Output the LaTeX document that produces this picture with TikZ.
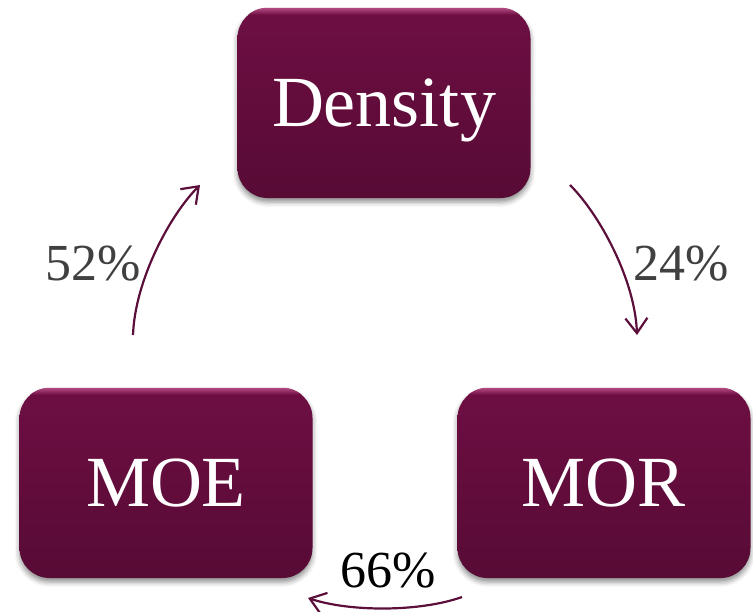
\documentclass[tikz,border=0pt]{standalone}
\usepackage{fontspec}
\setmainfont{Liberation Serif}
\usetikzlibrary{arrows.meta,shadows.blur}

\definecolor{boxtop}{HTML}{6E0E43}
\definecolor{boxbottom}{HTML}{570B35}
\definecolor{boxshine}{HTML}{B34A82}
\definecolor{linkcol}{HTML}{5C0F3B}
\definecolor{pcgray}{HTML}{404040}

\tikzset{
  factor/.style={rounded corners=30pt, minimum width=293pt, minimum height=190pt,
    inner sep=0pt, text=white, top color=boxtop, bottom color=boxbottom,
    font=\fontsize{72}{80}\selectfont, text height=47pt, text depth=0pt,
    blur shadow={shadow xshift=0pt, shadow yshift=-4pt, shadow blur radius=5pt,
      shadow opacity=45}},
  link/.style={draw=linkcol, line width=2.2pt,
    -{Straight Barb[length=15pt,width=22pt,line width=2.2pt]}},
  pct/.style={font=\fontsize{52}{60}\selectfont, anchor=base west, inner sep=0pt}
}

\newcommand{\topshine}[1]{%
  \begin{scope}
    \clip[rounded corners=30pt] (#1.north west) rectangle (#1.south east);
    \shade[top color=boxshine, bottom color=boxtop]
      (#1.north west) rectangle ([yshift=-7pt]#1.north east);
  \end{scope}}

\begin{document}
\begin{tikzpicture}[x=1pt,y=-1pt]
  \useasboundingbox (0,0) rectangle (753,611);

  % the three factors
  \node[factor] (dens) at (384,103) {Density};
  \node[factor] (moe)  at (166,483) {MOE};
  \node[factor] (mor)  at (604,483) {MOR};
  \topshine{dens}
  \topshine{moe}
  \topshine{mor}

  % arrow end points between the boxes
  \coordinate (moeout) at (133,335);
  \coordinate (densin) at (200,185);
  \coordinate (densout) at (570,185);
  \coordinate (morin) at (637,335);
  \coordinate (morout) at (462,597);
  \coordinate (moein) at (308,598);

  \draw[link] (moeout) .. controls (135,280) and (170,215) .. (densin);
  \draw[link] (densout) .. controls (600,215) and (635,280) .. (morin);
  \draw[link] (morout) .. controls (420,612) and (350,612) .. (moein);

  % percentages
  \node[pct, text=pcgray] (p52) at (45,280) {52\%};
  \node[pct, text=pcgray] (p24) at (633,280) {24\%};
  \node[pct, text=black]  (p66) at (340,587) {66\%};
\end{tikzpicture}
\end{document}
